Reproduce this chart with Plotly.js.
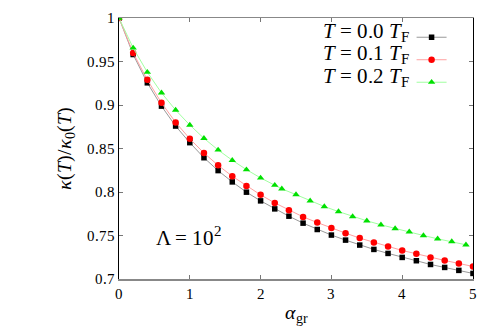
<!DOCTYPE html>
<html>
<head>
<meta charset="utf-8">
<script src="https://cdn.plot.ly/plotly-3.0.1.min.js"></script>
<style>
@font-face{font-family:'LibSerifLocal';font-style:normal;font-weight:400;src:local('Liberation Serif'),local('LiberationSerif'),local('DejaVu Serif');}
@font-face{font-family:'LibSerifLocal';font-style:italic;font-weight:400;src:local('Liberation Serif Italic'),local('LiberationSerif-Italic'),local('DejaVu Serif Italic');}
html,body{margin:0;padding:0;background:#fff;}#chart{width:498px;height:326px;}
</style>
</head>
<body>
<div id="chart"></div>
<script>
var xBR = [0,0.2,0.4,0.6,0.8,1.0,1.2,1.4,1.6,1.8,2.0,2.2,2.4,2.6,2.8,3.0,3.2,3.4,3.6,3.8,4.0,4.2,4.4,4.6,4.8,5.0];
var yT00 = [1.0,0.958,0.9255,0.8987,0.8758,0.8567,0.8394,0.8246,0.8116,0.7998,0.7898,0.7806,0.7722,0.7642,0.7569,0.7505,0.7447,0.739,0.734,0.7294,0.7248,0.721,0.7167,0.7133,0.7099,0.7064];
var yT01 = [1.0,0.9599,0.9289,0.9025,0.88,0.8612,0.8448,0.8307,0.8181,0.807,0.7967,0.7875,0.7791,0.7714,0.7649,0.7585,0.7527,0.747,0.742,0.7374,0.7328,0.729,0.7248,0.7213,0.7179,0.7144];
var xG = [0,0.2,0.4,0.6,0.8,1.0,1.2,1.4,1.6,1.8,2.0,2.2,2.3,2.5,2.7,2.9,3.1,3.3,3.5,3.7,3.9,4.1,4.3,4.5,4.7,4.9];
var yT02 = [1.0,0.9656,0.9377,0.914,0.8942,0.877,0.8617,0.8483,0.8365,0.8257,0.8162,0.8078,0.8036,0.797,0.7898,0.7833,0.7775,0.7718,0.7669,0.7623,0.758,0.7542,0.75,0.7462,0.7431,0.7393];
var labels = ['<i>T</i> = 0.0 <i>T</i><sub>F</sub>','<i>T</i> = 0.1 <i>T</i><sub>F</sub>','<i>T</i> = 0.2 <i>T</i><sub>F</sub>'];
var xTicks = [0,1,2,3,4,5];
var yTicks = [0.7,0.75,0.8,0.85,0.9,0.95,1];
var yTickText = ['0.7','0.75','0.8','0.85','0.9','0.95','1'];

var FAM = 'LibSerifLocal';
function draw(){
  var traces = [
    {x:xBR, y:yT00, mode:'lines+markers', name:' ', line:{color:'#999', width:1}, marker:{symbol:'square', size:5.5, color:'#000'}},
    {x:xBR, y:yT01, mode:'lines+markers', name:' ', line:{color:'#ffa0a0', width:1}, marker:{symbol:'circle', size:6.5, color:'#ff0000'}},
    {x:xG, y:yT02, mode:'lines+markers', name:' ', line:{color:'#a0ffa0', width:1}, marker:{symbol:'triangle-up', size:6.5, color:'#00e000'}}
  ];
  var ann = [];
  for (var i=0;i<labels.length;i++){
    ann.push({xref:'paper', yref:'paper', x:(411-119)/354.5, y:1-(31.7+i*22.5-17.7)/261.6, xanchor:'right', yanchor:'middle', text:labels[i], showarrow:false, font:{family:FAM, size:21, color:'#000'}});
  }
  ann.push({xref:'x', yref:'y', x:0.99, y:0.7485, text:'Λ = 10<sup>2</sup>', showarrow:false, xanchor:'center', yanchor:'middle', font:{family:FAM, size:21, color:'#000'}});
  var layout = {
    width:498, height:326,
    margin:{l:119, r:24.5, t:17.7, b:46.7},
    paper_bgcolor:'#fff', plot_bgcolor:'#fff',
    font:{family:FAM},
    showlegend:true,
    legend:{x:(412-119)/354.5, y:1-(31.7-17.7-11)/261.6, xanchor:'left', yanchor:'top', bgcolor:'rgba(0,0,0,0)', font:{family:FAM, size:15}, itemwidth:30, tracegroupgap:0},
    xaxis:{range:[0,5], tickvals:xTicks, ticks:'inside', ticklen:4, tickcolor:'#777', showgrid:false, zeroline:false, showline:true, linecolor:'#888', linewidth:1.5, mirror:'ticks', tickfont:{family:FAM, size:15, color:'#000'}, title:{text:'<i>α</i><sub>gr</sub>', font:{family:FAM, size:20, color:'#000'}, standoff:4}},
    yaxis:{range:[0.7,1], tickvals:yTicks, ticktext:yTickText, ticks:'inside', ticklen:4, tickcolor:'#777', showgrid:false, zeroline:false, showline:true, linecolor:'#000', linewidth:1, mirror:'ticks', tickfont:{family:FAM, size:15, color:'#000'}, title:{text:'<i>κ</i>(<i>T</i>)/<i>κ</i><sub>0</sub>(<i>T</i>)', font:{family:FAM, size:20, color:'#000'}, standoff:10}},
    annotations:ann
  };
  return Plotly.newPlot('chart', traces, layout, {displayModeBar:false, staticPlot:true});
}
if (document.fonts && document.fonts.load) {
  Promise.all([
    document.fonts.load('15px LibSerifLocal', '0.95 T'),
    document.fonts.load('italic 15px LibSerifLocal', 'T κ α')
  ]).catch(function(){}).then(draw);
} else {
  draw();
}
</script>
</body>
</html>
